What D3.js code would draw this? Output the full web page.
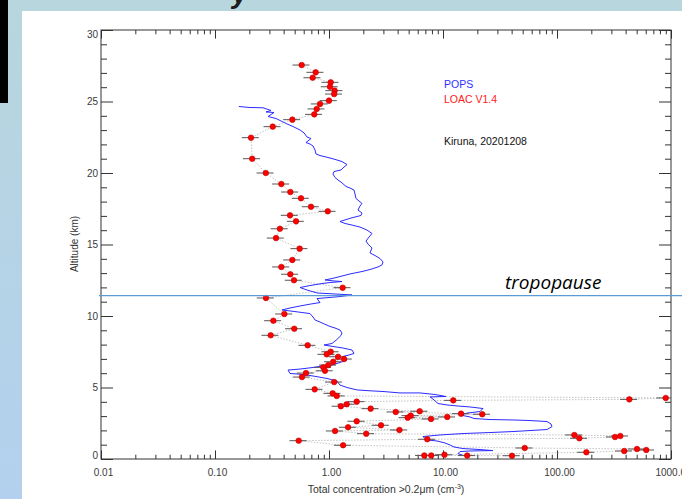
<!DOCTYPE html>
<html>
<head>
<meta charset="utf-8">
<script src="https://cdn.jsdelivr.net/npm/d3@7"></script>
<style>
  body { margin: 0; background: #fff; }
  svg { display: block; }
  text { font-family: "Liberation Sans", Arial, sans-serif; }
</style>
</head>
<body>
<svg id="chart" width="682" height="499"></svg>
<script>
// ---- POPS profile (total concentration, cm^-3) vs altitude (km), top to bottom ----
const popsConc = [
  0.162, 0.203, 0.264, 0.310, 0.280, 0.329, 0.292, 0.343, 0.379, 0.428,
  0.483, 0.557, 0.604, 0.641, 0.695, 0.628, 0.681, 0.724, 0.754, 0.769,
  0.834, 0.941, 1.063, 1.175, 1.300, 1.439, 1.327, 1.274, 1.106, 1.084,
  1.129, 1.199, 1.274, 1.410, 1.528, 1.657, 1.691, 1.725, 1.833, 1.948,
  1.870, 1.796, 1.948, 1.909, 1.560, 1.249, 1.381, 1.591, 1.870, 2.154,
  2.384, 2.243, 2.112, 2.198, 2.384, 2.289, 2.532, 2.802, 2.977, 2.917,
  2.690, 2.289, 1.948, 1.528, 1.249, 1.063, 0.922, 1.106, 1.300, 1.020,
  0.868, 0.681, 0.557, 0.641, 0.785, 1.129, 1.591, 1.249, 0.785, 0.834,
  0.695, 0.557, 0.455, 0.387, 0.503, 0.681, 0.724, 0.754, 0.834, 0.886,
  1.020, 1.129, 1.249, 1.300, 1.274, 1.175, 1.063, 0.904, 1.084, 1.327,
  1.591, 1.657, 1.497, 1.327, 1.439, 1.249, 1.063, 0.868, 0.724, 0.557,
  0.437, 0.455, 0.535, 0.641, 0.769, 0.960, 1.175, 1.249, 1.439, 1.760,
  2.289, 2.977, 4.196, 6.284, 8.506, 10.62, 7.69, 8.34, 9.04, 10.84,
  13.27, 17.25, 22.43, 21.12, 16.57, 14.10, 17.25, 18.70, 25.84, 41.1,
  57.98, 81.7, 88.6, 90.4, 81.7, 58.0, 41.1, 25.8, 14.98, 9.41,
  6.68, 6.95, 7.24, 8.86, 10.41, 11.52, 12.49, 14.98, 21.12, 27.45,
  17.25, 14.10, 13.54, 14.68
];
const popsAlt = [
  24.65, 24.58, 24.56, 24.37, 24.27, 24.23, 23.95, 23.81, 23.64, 23.43,
  23.25, 23.01, 22.80, 22.52, 22.41, 22.13, 22.03, 21.89, 21.61, 21.33,
  21.22, 21.12, 21.01, 20.91, 20.80, 20.59, 20.35, 20.21, 20.10, 19.93,
  19.69, 19.51, 19.37, 19.06, 18.95, 18.81, 18.53, 18.22, 18.04, 17.87,
  17.69, 17.41, 17.20, 17.03, 16.85, 16.61, 16.47, 16.36, 16.22, 16.01,
  15.77, 15.52, 15.24, 15.03, 14.76, 14.41, 14.23, 14.02, 13.78, 13.57,
  13.43, 13.25, 13.11, 12.94, 12.76, 12.62, 12.52, 12.45, 12.41, 12.34,
  12.27, 12.13, 11.99, 11.82, 11.61, 11.54, 11.47, 11.36, 11.22, 10.94,
  10.84, 10.70, 10.56, 10.42, 10.31, 10.17, 9.93, 9.72, 9.58, 9.48,
  9.27, 9.16, 9.02, 8.81, 8.64, 8.36, 8.08, 7.97, 7.87, 7.76,
  7.62, 7.38, 7.27, 7.17, 6.92, 6.75, 6.57, 6.50, 6.40, 6.29,
  6.22, 5.98, 5.94, 5.87, 5.77, 5.63, 5.45, 5.17, 5.00, 4.83,
  4.77, 4.72, 4.62, 4.62, 4.51, 4.37, 4.34, 4.13, 3.88, 3.78,
  3.71, 3.64, 3.53, 3.32, 3.22, 3.08, 2.94, 2.83, 2.76, 2.73,
  2.69, 2.62, 2.45, 2.27, 2.06, 1.99, 1.92, 1.85, 1.78, 1.68,
  1.57, 1.43, 1.33, 1.26, 1.12, 0.98, 0.84, 0.73, 0.66, 0.59,
  0.56, 0.52, 0.38, 0.28
];

// ---- LOAC V1.4 measurements, top to bottom ----
const loacConc = [
  0.576, 0.764, 0.719, 1.035, 1.02, 1.12, 1.11, 1.00, 0.834, 0.780,
  0.743, 0.477, 0.321, 0.207, 0.212, 0.279, 0.382, 0.458, 0.568, 0.695,
  0.975, 0.455, 0.514, 0.371, 0.343, 0.553, 0.477, 0.382, 0.458, 0.493,
  1.318, 0.280, 0.406, 0.325, 0.496, 0.308, 0.650, 1.035, 0.955, 1.20,
  1.355, 1.09, 0.986, 0.891, 0.922, 0.628, 0.580, 1.11, 0.749, 1.077,
  1.169, 899, 431, 12.3, 1.75, 1.43, 1.27, 2.32, 6.25, 3.85,
  14.4, 22.1, 5.21, 10.9, 4.90, 7.85, 1.75, 2.86, 1.47, 4.15,
  1.13, 2.12, 142, 359, 323, 157, 7.28, 0.542, 1.33, 52.1,
  503, 607, 389, 181, 10.3, 6.85, 7.89, 16.3, 40.3
];
const loacAlt = [
  27.55, 27.04, 26.66, 26.34, 26.03, 25.76, 25.52, 25.06, 24.83, 24.48,
  24.10, 23.73, 23.24, 22.47, 21.00, 20.00, 19.23, 18.67, 18.23, 17.64,
  17.32, 17.04, 16.62, 16.10, 15.45, 14.71, 13.92, 13.43, 12.92, 12.50,
  11.98, 11.26, 10.14, 9.67, 9.11, 8.65, 7.95, 7.50, 7.32, 7.15,
  6.99, 6.80, 6.57, 6.41, 6.17, 6.01, 5.73, 5.38, 4.87, 4.59,
  4.41, 4.27, 4.17, 4.10, 4.01, 3.83, 3.69, 3.52, 3.34, 3.29,
  3.17, 3.13, 3.03, 2.94, 2.89, 2.80, 2.64, 2.36, 2.22, 2.03,
  1.96, 1.77, 1.68, 1.61, 1.54, 1.45, 1.38, 1.28, 0.96, 0.77,
  0.70, 0.63, 0.56, 0.47, 0.30, 0.25, 0.25, 0.24, 0.23
];
const loacRelErr = 0.17;

// ---- axes ----
const xTickValues = [0.01, 0.1, 1, 10, 100, 1000];
const xTickLabels = ["0.01", "0.10", "1.00", "10.00", "100.00", "1000.00"];
const yTickValues = [0, 5, 10, 15, 20, 25, 30];
const tropopauseAlt = 11.42;

const svg = d3.select("#chart");

// slide background
const defs = svg.append("defs");
const grad = defs.append("linearGradient").attr("id", "slideBg")
  .attr("x1", 0).attr("y1", 0).attr("x2", 0).attr("y2", 1);
grad.append("stop").attr("offset", "0%").attr("stop-color", "#b8d6dd");
grad.append("stop").attr("offset", "100%").attr("stop-color", "#b3d0ee");
svg.append("rect").attr("width", 682).attr("height", 499).attr("fill", "url(#slideBg)");
svg.append("text").attr("x", 232).attr("y", 3)
  .style("font-size", "28px").style("font-weight", "bold").style("font-style", "italic")
  .attr("fill", "#1b1b1b").text("y");
svg.append("rect").attr("x", 22).attr("y", 11).attr("width", 660).attr("height", 488).attr("fill", "#fff");
svg.append("rect").attr("x", 0).attr("y", 0).attr("width", 8).attr("height", 103).attr("fill", "#000");

const x = d3.scaleLog().domain([0.01, 1000]).range([101, 671]);
const y = d3.scaleLinear().domain([0, 30]).range([459, 30]);

const minorX = [];
xTickValues.slice(0, -1).forEach(d => { for (let k = 2; k <= 9; k++) minorX.push(d * k); });
const minorY = d3.range(0, 31).filter(v => v % 5 !== 0);

function styleAxis(g) {
  g.select(".domain").remove();
  g.selectAll("line").attr("stroke", "#333").attr("stroke-width", 1);
  g.selectAll("text").attr("fill", "#3a3a3a").style("font-size", "10px")
    .style("font-family", "'Liberation Sans', Arial, sans-serif");
}

// bottom
svg.append("g").attr("transform", "translate(0,459)")
  .call(d3.axisBottom(x).tickValues(minorX).tickSize(-4.3).tickFormat(""))
  .call(styleAxis);
svg.append("g").attr("transform", "translate(0,459)")
  .call(d3.axisBottom(x).tickValues(xTickValues).tickSize(-8.6).tickPadding(10)
    .tickFormat((d, i) => xTickLabels[i]))
  .call(styleAxis)
  .call(g => g.selectAll("text").attr("dx", 2));
// top
svg.append("g").attr("transform", "translate(0,30)")
  .call(d3.axisTop(x).tickValues(minorX).tickSize(-4.3).tickFormat(""))
  .call(styleAxis);
svg.append("g").attr("transform", "translate(0,30)")
  .call(d3.axisTop(x).tickValues(xTickValues).tickSize(-8.6).tickFormat(""))
  .call(styleAxis);
// left
svg.append("g").attr("transform", "translate(101,0)")
  .call(d3.axisLeft(y).tickValues(minorY).tickSize(-6).tickFormat(""))
  .call(styleAxis);
svg.append("g").attr("transform", "translate(101,0)")
  .call(d3.axisLeft(y).tickValues(yTickValues).tickSize(-12).tickPadding(3).tickFormat(d3.format("d")))
  .call(styleAxis)
  // end labels sit just inside the frame
  .call(g => g.selectAll("text").attr("dy", d => d === 30 ? "0.72em" : d === 0 ? "-0.08em" : "0.32em"));
// right
svg.append("g").attr("transform", "translate(671,0)")
  .call(d3.axisRight(y).tickValues(minorY).tickSize(-6).tickFormat(""))
  .call(styleAxis);
svg.append("g").attr("transform", "translate(671,0)")
  .call(d3.axisRight(y).tickValues(yTickValues).tickSize(-12).tickFormat(""))
  .call(styleAxis);

// frame
svg.append("rect").attr("x", 101).attr("y", 30).attr("width", 570).attr("height", 429)
  .attr("fill", "none").attr("stroke", "#333").attr("stroke-width", 1);

// axis titles
const xt = svg.append("text").attr("x", 386).attr("y", 493).attr("text-anchor", "middle")
  .style("font-size", "10.5px").attr("fill", "#333");
xt.append("tspan").text("Total concentration >0.2\u03bcm (cm");
xt.append("tspan").attr("dy", -4).style("font-size", "7px").text("-3");
xt.append("tspan").attr("dy", 4).text(")");
svg.append("text").attr("transform", "translate(74,244) rotate(-90)")
  .attr("text-anchor", "middle").attr("dy", "0.35em")
  .style("font-size", "10px").attr("fill", "#333").text("Altitude (km)");

// plot content
defs.append("clipPath").attr("id", "plotClip").append("rect")
  .attr("x", 101).attr("y", 30).attr("width", 570).attr("height", 429);
const plot = svg.append("g").attr("clip-path", "url(#plotClip)");

const loac = loacConc.map((c, i) => ({ c, a: loacAlt[i] }));
const pops = popsConc.map((c, i) => ({ c, a: popsAlt[i] }));

plot.append("path").datum(loac)
  .attr("d", d3.line().x(d => x(d.c)).y(d => y(d.a)))
  .attr("fill", "none").attr("stroke", "#b4b4b4").attr("stroke-width", 0.8)
  .attr("stroke-dasharray", "1.5,1.5");

plot.append("path").datum(pops)
  .attr("d", d3.line().x(d => x(d.c)).y(d => y(d.a)))
  .attr("fill", "none").attr("stroke", "#2b2bff").attr("stroke-width", 1);

plot.selectAll(".err").data(loac).join("line")
  .attr("x1", d => x(d.c * (1 - loacRelErr))).attr("x2", d => x(d.c * (1 + loacRelErr)))
  .attr("y1", d => y(d.a)).attr("y2", d => y(d.a))
  .attr("stroke", "#555").attr("stroke-width", 1);

plot.selectAll(".pt").data(loac).join("circle")
  .attr("cx", d => x(d.c)).attr("cy", d => y(d.a)).attr("r", 2.8)
  .attr("fill", "#ff0000").attr("stroke", "#c00000").attr("stroke-width", 0.6);

// legend / annotation
const leg = [["POPS", "#3030ff", 88], ["LOAC V1.4", "#ff2020", 102.5], ["Kiruna, 20201208", "#111", 144.5]];
svg.selectAll(".leg").data(leg).join("text")
  .attr("x", 444).attr("y", d => d[2]).style("font-size", "10.5px")
  .attr("fill", d => d[1]).text(d => d[0]);

// tropopause
svg.append("line").attr("x1", 99).attr("x2", 682)
  .attr("y1", y(tropopauseAlt)).attr("y2", y(tropopauseAlt))
  .attr("stroke", "#5b9bd5").attr("stroke-width", 1.2);
svg.append("text").attr("x", 505).attr("y", y(tropopauseAlt) - 7)
  .style("font-family", "'Open Sans', 'Noto Sans', sans-serif")
  .style("font-style", "italic").style("font-size", "19px").attr("fill", "#000")
  .text("tropopause");
</script>
</body>
</html>
